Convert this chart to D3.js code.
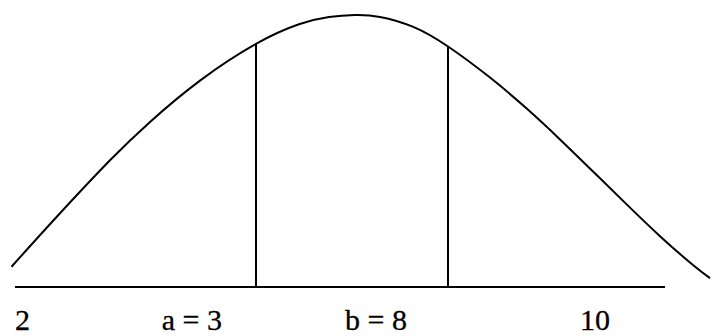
<!DOCTYPE html>
<html>
<head>
<meta charset="utf-8">
<script src="https://cdn.jsdelivr.net/npm/d3@7"></script>
<style>
  html, body { margin: 0; padding: 0; background: #fff; }
  svg { display: block; }
</style>
</head>
<body>
<svg id="chart" width="715" height="336"></svg>
<script>
// Curve points (x in arbitrary units 0..100, y relative height 0..1)
const curveX = [0.07, 7.01, 14.16, 19.89, 27.04, 35.05, 41.20, 45.49, 49.21,
                52.79, 57.55, 62.52, 68.53, 73.78, 78.54, 83.30, 88.08, 92.85, 97.61, 100];
const curveY = [0.0746, 0.2710, 0.4658, 0.6070, 0.7588, 0.8938, 0.9658, 0.9923, 1.0,
                0.9930, 0.9563, 0.8842, 0.7699, 0.6559, 0.5426, 0.4239, 0.3037, 0.1868, 0.0798, 0.0324];

// Vertical markers (a and b)
const markerX = [35.05, 62.52];
const markerTop = [0.8938, 0.8842];

// Baseline extent
const baseStart = 0.57;
const baseEnd = 93.56;

// Labels under the baseline
const labelText = ["2", "a = 3", "b = 8", "10"];
const labelX = [0.57, 21.56, 47.78, 81.40];

const svg = d3.select("#chart");
const x = d3.scaleLinear().domain([0, 100]).range([11, 710]);
const y = d3.scaleLinear().domain([0, 1]).range([287, 15]);

const pts = curveX.map((v, i) => [v, curveY[i]]);

svg.append("path")
  .datum(pts)
  .attr("fill", "none")
  .attr("stroke", "#000")
  .attr("stroke-width", 2)
  .attr("d", d3.line().x(d => x(d[0])).y(d => y(d[1])).curve(d3.curveNatural));

// baseline
svg.append("line")
  .attr("x1", x(baseStart)).attr("x2", x(baseEnd))
  .attr("y1", y(0)).attr("y2", y(0))
  .attr("stroke", "#000").attr("stroke-width", 2);

// vertical lines
svg.selectAll("line.marker")
  .data(markerX.map((v, i) => [v, markerTop[i]]))
  .enter().append("line")
  .attr("class", "marker")
  .attr("x1", d => x(d[0])).attr("x2", d => x(d[0]))
  .attr("y1", y(0)).attr("y2", d => y(d[1]))
  .attr("stroke", "#000").attr("stroke-width", 2);

// labels
svg.selectAll("text.lbl")
  .data(labelText.map((t, i) => [t, labelX[i]]))
  .enter().append("text")
  .attr("class", "lbl")
  .attr("x", d => x(d[1]))
  .attr("y", 330)
  .attr("text-anchor", "start")
  .style("font-family", "'Times New Roman', 'Liberation Serif', Times, serif")
  .style("font-size", "30px")
  .attr("fill", "#000")
  .attr("stroke", "#000")
  .attr("stroke-width", 0.3)
  .text(d => d[0]);
</script>
</body>
</html>
